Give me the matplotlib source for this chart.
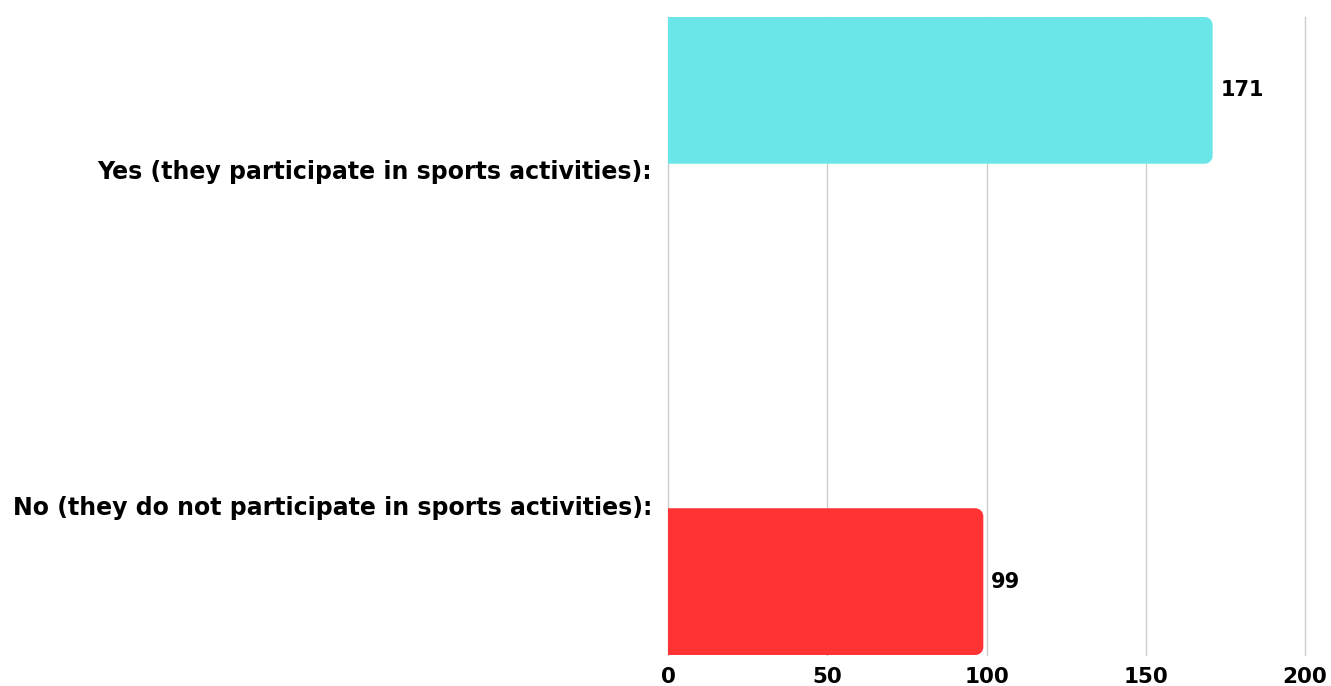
import matplotlib
matplotlib.use("Agg")
import matplotlib.pyplot as plt
from matplotlib.path import Path
from matplotlib.patches import PathPatch

categories = ["Yes (they participate in sports activities):",
              "No (they do not participate in sports activities):"]
series_names = ["Yes", "No"]
values = [171, 99]
colors = ["#6BE6E8", "#FF3333"]
x_ticks = [0, 50, 100, 150, 200]

FONT = "DejaVu Sans"
W, H, DPI = 1331, 686, 100

fig = plt.figure(figsize=(W / DPI, H / DPI), dpi=DPI)
ax = fig.add_axes([668 / W, 1 - 655 / H, (1305 - 668) / W, (655 - 17) / H])

ax.set_xlim(0, 200)
ax.set_ylim(2, 0)

slot_h = 0.46
slot_gap = 0.08
radius_px = 8


def rounded_right_bar(x0, y0, w, h, rx, ry):
    # rectangle with rounded corners on the right-hand end only
    k = 0.5523
    x1 = x0 + w
    y1 = y0 + h
    rx = min(rx, w)
    verts = [
        (x0, y0),
        (x1 - rx, y0),
        (x1 - rx + k * rx, y0), (x1, y0 + ry - k * ry), (x1, y0 + ry),
        (x1, y1 - ry),
        (x1, y1 - ry + k * ry), (x1 - rx + k * rx, y1), (x1 - rx, y1),
        (x0, y1),
        (x0, y0),
    ]
    codes = [Path.MOVETO, Path.LINETO,
             Path.CURVE4, Path.CURVE4, Path.CURVE4,
             Path.LINETO,
             Path.CURVE4, Path.CURVE4, Path.CURVE4,
             Path.LINETO, Path.CLOSEPOLY]
    return Path(verts, codes)


# data units per pixel
px_x = 200 / (1305 - 668)
px_y = 2 / (655 - 17)

for i, (val, col) in enumerate(zip(values, colors)):
    y0 = i + i * (slot_h + slot_gap)
    path = rounded_right_bar(0, y0, val, slot_h, radius_px * px_x, radius_px * px_y)
    ax.add_patch(PathPatch(path, facecolor=col, edgecolor="none", zorder=3))
    ax.text(val + 8 * px_x, y0 + slot_h / 2, str(val), ha="left", va="center",
            fontsize=15, fontweight="bold", family=FONT, color="#000000")

ax.set_xticks(x_ticks)
ax.set_xticklabels([str(t) for t in x_ticks], fontsize=15.5, fontweight="bold", family=FONT)
ax.tick_params(axis="x", length=0, pad=20)
for lbl in ax.get_xticklabels():
    lbl.set_verticalalignment("baseline")

label_pos = [(170 - 17) * px_y, (505 - 17) * px_y]
ax.set_yticks(label_pos)
ax.set_yticklabels(categories, fontsize=17, fontweight="bold", family=FONT)
ax.tick_params(axis="y", length=0, pad=11.5)

ax.grid(axis="x", color="#cccccc", linewidth=1, zorder=0)
for gl in ax.get_xgridlines():
    gl.set_clip_on(False)
ax.set_axisbelow(True)
for s in ax.spines.values():
    s.set_visible(False)

fig.savefig("out.png", dpi=DPI)
